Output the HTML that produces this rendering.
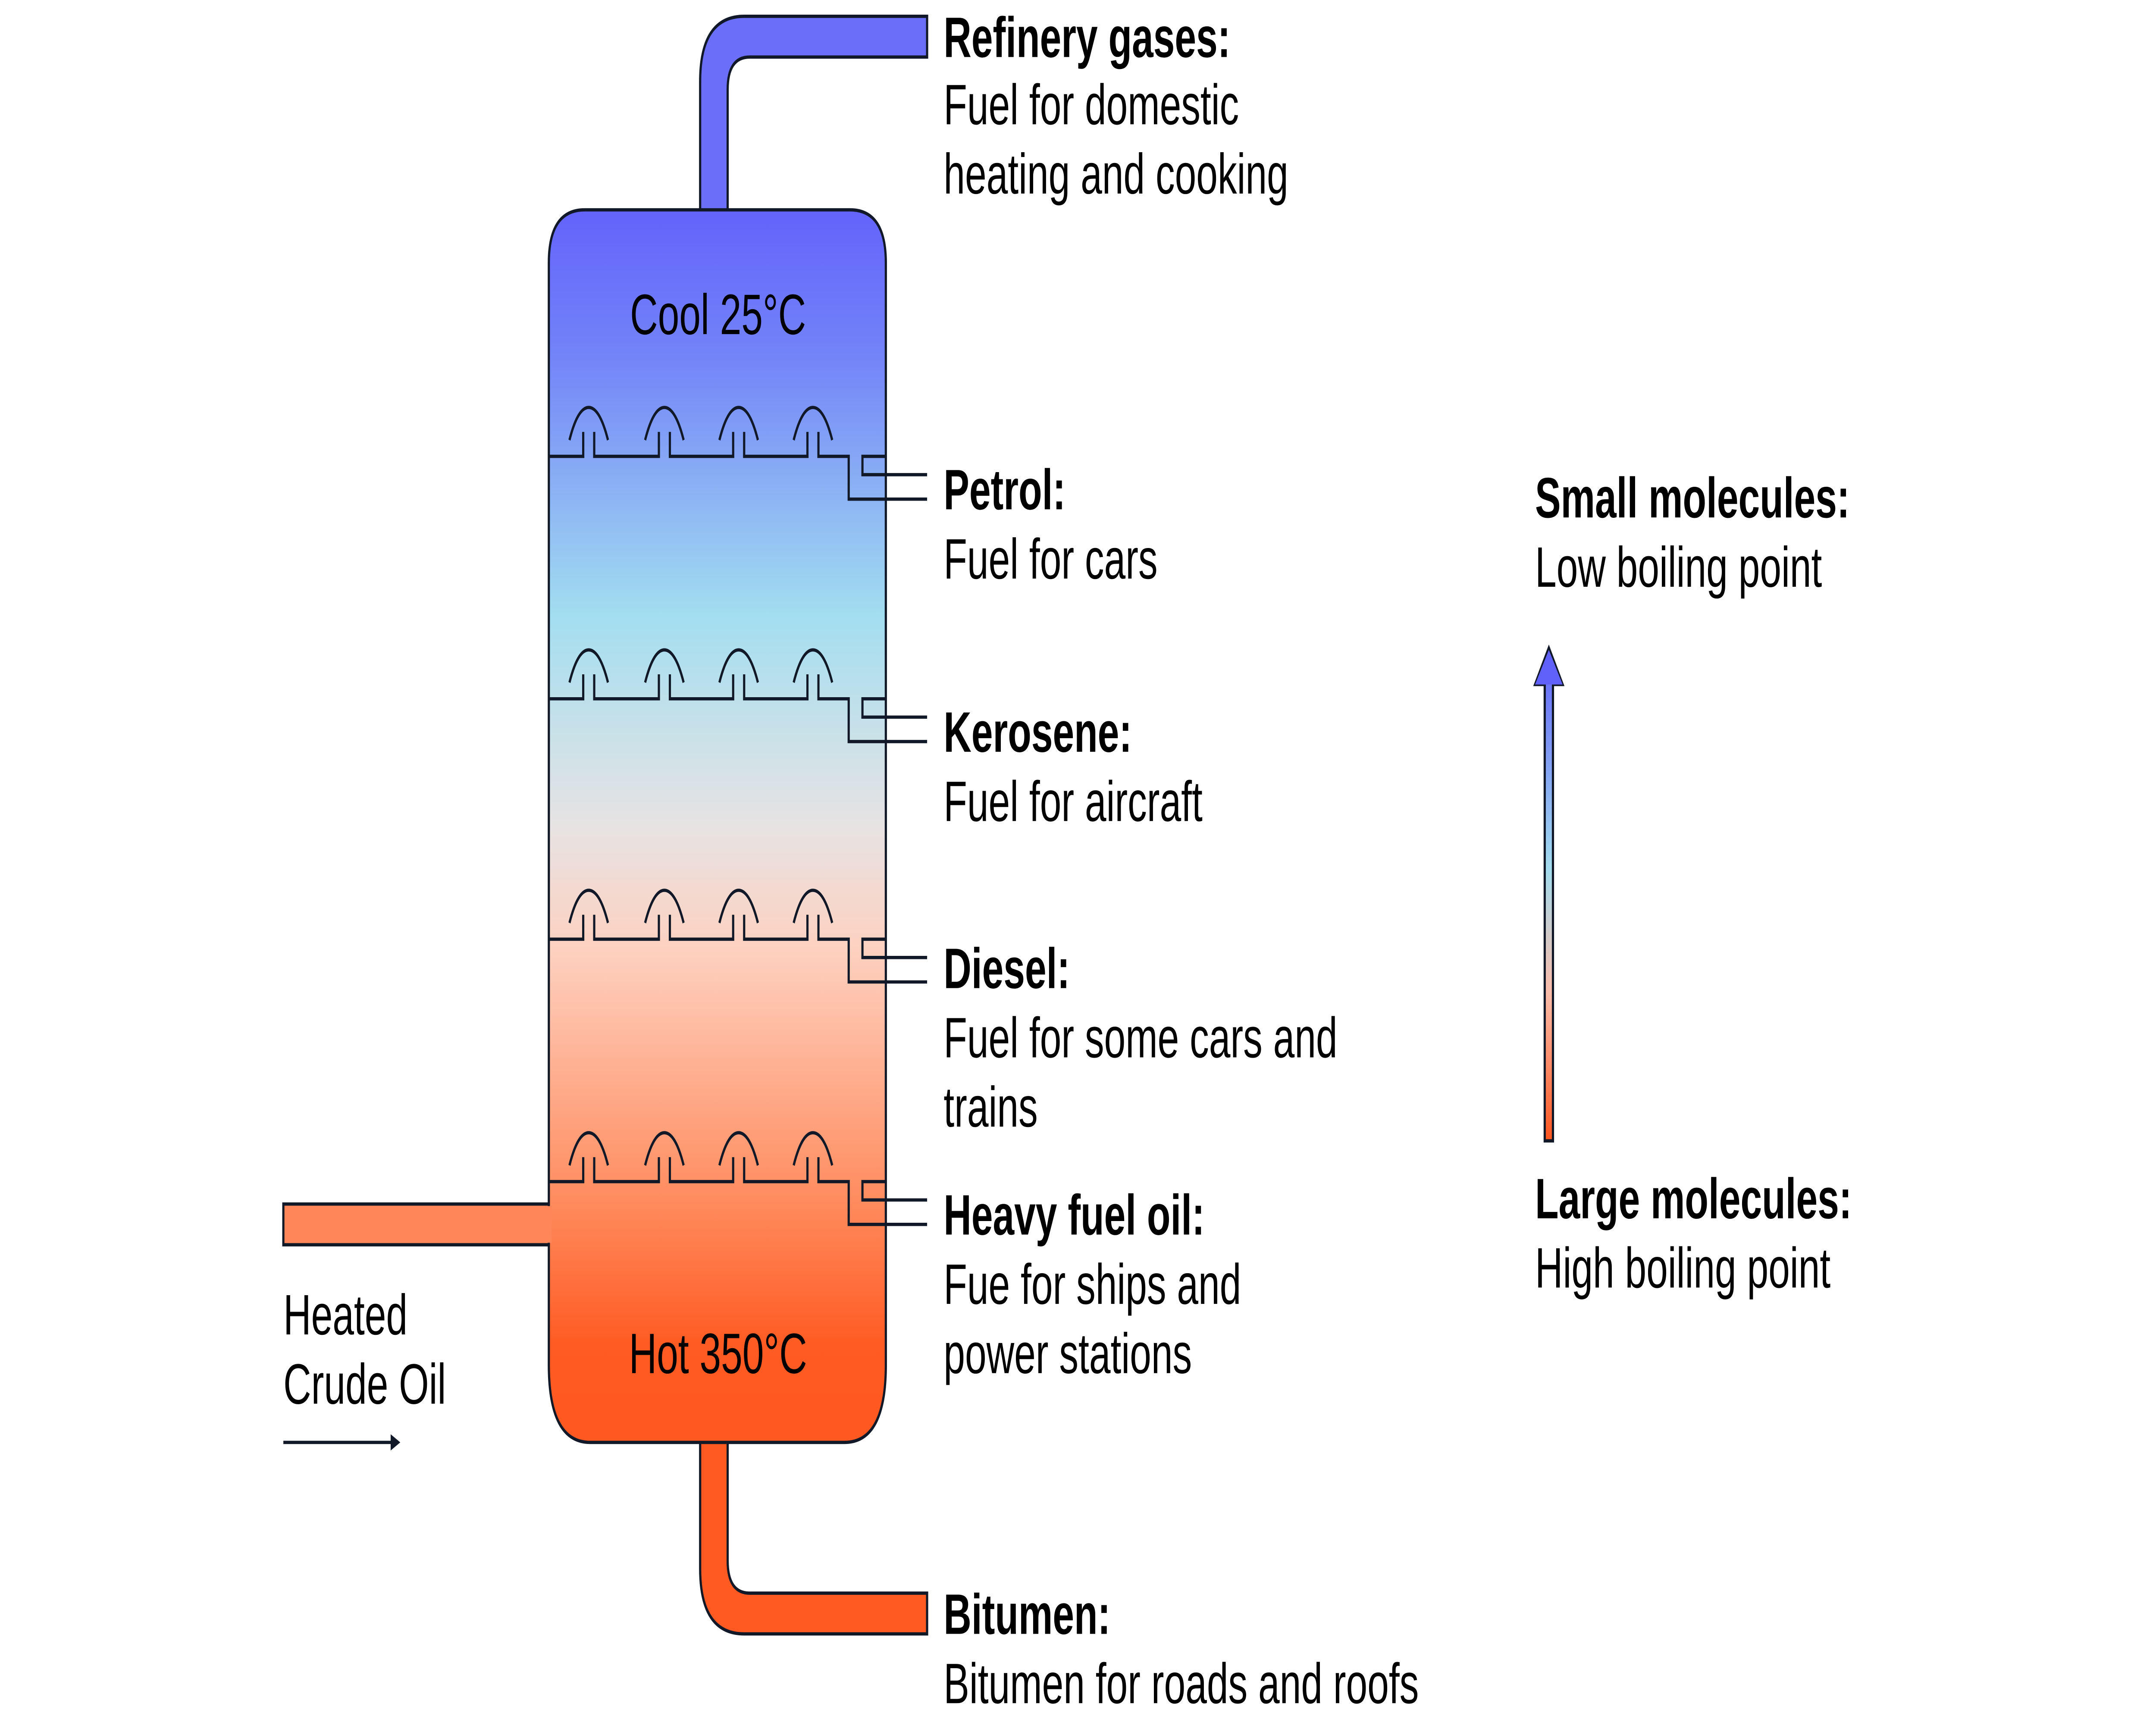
<!DOCTYPE html>
<html><head><meta charset="utf-8">
<style>
html,body{margin:0;padding:0;background:#fff;width:100%;height:100%;overflow:hidden;}
svg{display:block;position:fixed;left:0;top:0;width:100vw;height:100vh;}
text{font-family:"Liberation Sans",sans-serif;fill:#000;}
.b{font-weight:bold;}
</style></head><body>
<svg viewBox="0 0 1567.4 842.3" preserveAspectRatio="none" xmlns="http://www.w3.org/2000/svg">
<defs>
<linearGradient id="col" x1="0" y1="103" x2="0" y2="708" gradientUnits="userSpaceOnUse">
<stop offset="0" stop-color="#6363fb"/>
<stop offset="0.12" stop-color="#7384f8"/>
<stop offset="0.33" stop-color="#a3def0"/>
<stop offset="0.5" stop-color="#e7e3e3"/>
<stop offset="0.6" stop-color="#fdd1c0"/>
<stop offset="0.8" stop-color="#ff8d60"/>
<stop offset="0.92" stop-color="#ff5b23"/>
<stop offset="1" stop-color="#ff5820"/>
</linearGradient>
<linearGradient id="arr" x1="0" y1="560" x2="0" y2="318" gradientUnits="userSpaceOnUse">
<stop offset="0" stop-color="#ff5520"/>
<stop offset="0.3" stop-color="#fbbcaa"/>
<stop offset="0.55" stop-color="#a3dcee"/>
<stop offset="1" stop-color="#6060fb"/>
</linearGradient>
</defs>
<g stroke="#111827" stroke-width="1.6" fill="none">
<path d="M509 105 V40 Q509 8 541 8 H674 V28 H545 Q529 28 529 44 V105 Z" fill="#6b6ef8"/>
<path d="M509 706 V770 Q509 802 541 802 H674 V782 H545 Q529 782 529 766 V706 Z" fill="#ff5a22"/>
<path d="M206 591 H402 V611 H206 Z" fill="#ff8659"/>
<path d="M399 129 Q399 103 425 103 H618 Q644 103 644 129 V670 Q644 708 614 708 H429 Q399 708 399 670 Z" fill="url(#col)"/>
</g>
<rect x="398" y="592" width="3" height="18" fill="#ff8659"/>
<g stroke="#111827" stroke-width="1.6" fill="none">
<g>
<path d="M399 224 H424 V212 M432 212 V224 H479 V212 M487 212 V224 H533 V212 M541 212 V224 H587 V212 M595 212 V224 H617 V245 H674"/>
<path d="M644 224 H627 V233 H674"/>
<path d="M414 216 Q420 200 428 200 Q436 200 442 216"/>
<path d="M469 216 Q475 200 483 200 Q491 200 497 216"/>
<path d="M523 216 Q529 200 537 200 Q545 200 551 216"/>
<path d="M577 216 Q583 200 591 200 Q599 200 605 216"/>
</g>
<g transform="translate(0,119)">
<path d="M399 224 H424 V212 M432 212 V224 H479 V212 M487 212 V224 H533 V212 M541 212 V224 H587 V212 M595 212 V224 H617 V245 H674"/>
<path d="M644 224 H627 V233 H674"/>
<path d="M414 216 Q420 200 428 200 Q436 200 442 216"/>
<path d="M469 216 Q475 200 483 200 Q491 200 497 216"/>
<path d="M523 216 Q529 200 537 200 Q545 200 551 216"/>
<path d="M577 216 Q583 200 591 200 Q599 200 605 216"/>
</g>
<g transform="translate(0,237)">
<path d="M399 224 H424 V212 M432 212 V224 H479 V212 M487 212 V224 H533 V212 M541 212 V224 H587 V212 M595 212 V224 H617 V245 H674"/>
<path d="M644 224 H627 V233 H674"/>
<path d="M414 216 Q420 200 428 200 Q436 200 442 216"/>
<path d="M469 216 Q475 200 483 200 Q491 200 497 216"/>
<path d="M523 216 Q529 200 537 200 Q545 200 551 216"/>
<path d="M577 216 Q583 200 591 200 Q599 200 605 216"/>
</g>
<g transform="translate(0,356)">
<path d="M399 224 H424 V212 M432 212 V224 H479 V212 M487 212 V224 H533 V212 M541 212 V224 H587 V212 M595 212 V224 H617 V245 H674"/>
<path d="M644 224 H627 V233 H674"/>
<path d="M414 216 Q420 200 428 200 Q436 200 442 216"/>
<path d="M469 216 Q475 200 483 200 Q491 200 497 216"/>
<path d="M523 216 Q529 200 537 200 Q545 200 551 216"/>
<path d="M577 216 Q583 200 591 200 Q599 200 605 216"/>
</g>
</g>
<path d="M1123 560 V336 H1116 L1126 318 L1136 336 H1129 V560 Z" fill="url(#arr)" stroke="#111827" stroke-width="1.6"/>
<path d="M1116 336 L1126 319 L1136 336 Z" fill="#6060fb"/>
<path d="M206 708 H285" stroke="#111827" stroke-width="1.6"/>
<path d="M284 704 L291 708 L284 712 Z" fill="#111827"/>
<g font-size="28">
<text x="522" y="164" text-anchor="middle">Cool 25°C</text>
<text x="522" y="674" text-anchor="middle">Hot 350°C</text>
<text x="206" y="655">Heated</text>
<text x="206" y="689">Crude Oil</text>
<text x="686" y="28" class="b">Refinery gases:</text>
<text x="686" y="61">Fuel for domestic</text>
<text x="686" y="95">heating and cooking</text>
<text x="686" y="250" class="b">Petrol:</text>
<text x="686" y="284">Fuel for cars</text>
<text x="686" y="369" class="b">Kerosene:</text>
<text x="686" y="403">Fuel for aircraft</text>
<text x="686" y="485" class="b">Diesel:</text>
<text x="686" y="519">Fuel for some cars and</text>
<text x="686" y="553">trains</text>
<text x="686" y="606" class="b">Heavy fuel oil:</text>
<text x="686" y="640">Fue for ships and</text>
<text x="686" y="674">power stations</text>
<text x="686" y="802" class="b">Bitumen:</text>
<text x="686" y="836">Bitumen for roads and roofs</text>
<text x="1116" y="254" class="b">Small molecules:</text>
<text x="1116" y="288">Low boiling point</text>
<text x="1116" y="598" class="b">Large molecules:</text>
<text x="1116" y="632">High boiling point</text>
</g>
</svg>
</body></html>
